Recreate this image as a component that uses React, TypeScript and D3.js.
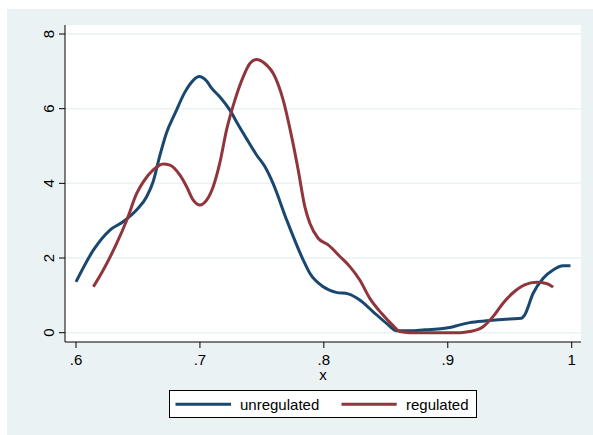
import React from 'react';
import * as d3 from 'd3';

// kernel density estimates
const unregX = [0.600, 0.614, 0.6274, 0.638, 0.649, 0.657, 0.6623, 0.6677, 0.673, 0.680, 0.688, 0.6946, 0.6994, 0.7054, 0.7094, 0.716, 0.7242, 0.731, 0.739, 0.7457, 0.7524, 0.759, 0.770, 0.7833, 0.7887, 0.7995, 0.810, 0.8196, 0.829, 0.8398, 0.8506, 0.8587, 0.869, 0.8816, 0.896, 0.9016, 0.9097, 0.9177, 0.9312, 0.950, 0.9594, 0.962, 0.9688, 0.977, 0.985, 0.993, 0.999];
const unregY = [1.36, 2.21, 2.75, 2.97, 3.29, 3.64, 4.05, 4.75, 5.35, 5.88, 6.45, 6.76, 6.86, 6.74, 6.55, 6.32, 5.96, 5.56, 5.12, 4.76, 4.45, 4.0, 3.02, 1.95, 1.59, 1.23, 1.08, 1.04, 0.876, 0.56, 0.25, 0.054, 0.05, 0.08, 0.11, 0.14, 0.21, 0.27, 0.32, 0.37, 0.385, 0.47, 1.05, 1.46, 1.68, 1.79, 1.79];

const regX = [0.614, 0.622, 0.6328, 0.641, 0.649, 0.6543, 0.6623, 0.6704, 0.6758, 0.6839, 0.6893, 0.6946, 0.700, 0.7054, 0.7107, 0.716, 0.7215, 0.7282, 0.735, 0.7403, 0.7457, 0.7524, 0.7605, 0.7672, 0.774, 0.7793, 0.7847, 0.7887, 0.7954, 0.8035, 0.813, 0.821, 0.829, 0.8371, 0.8465, 0.8559, 0.8613, 0.869, 0.890, 0.910, 0.9177, 0.9285, 0.9365, 0.9446, 0.9527, 0.962, 0.9715, 0.9796, 0.985];
const regY = [1.23, 1.68, 2.39, 3.02, 3.73, 4.04, 4.36, 4.52, 4.49, 4.22, 3.91, 3.55, 3.42, 3.55, 3.91, 4.54, 5.43, 6.23, 6.86, 7.21, 7.32, 7.21, 6.86, 6.23, 5.25, 4.36, 3.37, 2.93, 2.53, 2.35, 2.04, 1.77, 1.41, 0.92, 0.52, 0.19, 0.03, 0.0, 0.0, 0.0, 0.03, 0.16, 0.43, 0.79, 1.07, 1.28, 1.35, 1.32, 1.22];

const xTicks = [0.6, 0.7, 0.8, 0.9, 1.0];
const xTickLabels = ['.6', '.7', '.8', '.9', '1'];
const yTicks = [0, 2, 4, 6, 8];

const seriesNames = ['unregulated', 'regulated'];
const colors = ['#1A476F', '#90353B'];

const W = 593;
const H = 435;
const bg = '#EAF2F3';
const font = '"Liberation Sans", Arial, sans-serif';

const App: React.FC = () => {
  const plot = { left: 65, right: 581, top: 25, bottom: 342 };

  const x = d3.scaleLinear().domain([0.6, 1.0]).range([76, 571.7]);
  const y = d3.scaleLinear().domain([0, 8]).range([332.7, 34]);

  const line = d3.line<[number, number]>()
    .x(d => x(d[0]))
    .y(d => y(d[1]))
    .curve(d3.curveMonotoneX);

  const series = [
    unregX.map((v, i) => [v, unregY[i]] as [number, number]),
    regX.map((v, i) => [v, regY[i]] as [number, number]),
  ];

  const midX = (plot.left + plot.right) / 2;

  return (
    <svg
      width={W}
      height={H}
      style={{ position: 'absolute', left: 0, top: 0, display: 'block' }}
      fontFamily={font}
    >
      <rect x={0} y={0} width={W} height={H} fill="#fff" />
      <rect x={7} y={9} width={W - 7} height={H - 9} fill={bg} />
      <rect x={plot.left} y={plot.top} width={plot.right - plot.left} height={plot.bottom - plot.top} fill="#fff" />

      {/* grid */}
      {yTicks.map(t => (
        <line key={'g' + t} x1={plot.left} x2={plot.right} y1={y(t)} y2={y(t)} stroke={bg} strokeWidth={1.5} />
      ))}

      {/* series */}
      {series.map((s, i) => (
        <path key={i} d={line(s) || undefined} fill="none" stroke={colors[i]} strokeWidth={3} strokeLinejoin="round" strokeLinecap="butt" />
      ))}

      {/* axes */}
      <line x1={plot.left} x2={plot.left} y1={plot.top} y2={plot.bottom} stroke="#000" strokeWidth={1} />
      <line x1={plot.left} x2={plot.right} y1={plot.bottom} y2={plot.bottom} stroke="#000" strokeWidth={1} />

      {yTicks.map(t => (
        <g key={'y' + t}>
          <line x1={plot.left - 6} x2={plot.left} y1={y(t)} y2={y(t)} stroke="#000" strokeWidth={1} />
          <text
            transform={`translate(${53.5},${y(t)}) rotate(-90)`}
            textAnchor="middle"
            fontSize={15}
            fill="#000"
          >
            {t}
          </text>
        </g>
      ))}

      {xTicks.map((t, i) => (
        <g key={'x' + t}>
          <line x1={x(t)} x2={x(t)} y1={plot.bottom} y2={plot.bottom + 6} stroke="#000" strokeWidth={1} />
          <text x={x(t)} y={365} textAnchor="middle" fontSize={15} fill="#000">
            {xTickLabels[i]}
          </text>
        </g>
      ))}

      <text x={midX} y={380} textAnchor="middle" fontSize={15} fill="#000">x</text>

      {/* legend */}
      <rect x={169.5} y={390.5} width={307} height={27} fill="#fff" stroke="#000" strokeWidth={1} />
      <line x1={175.5} x2={231} y1={404.3} y2={404.3} stroke={colors[0]} strokeWidth={3} />
      <text x={240} y={410} fontSize={15} fill="#000">{seriesNames[0]}</text>
      <line x1={341.5} x2={396.7} y1={404.3} y2={404.3} stroke={colors[1]} strokeWidth={3} />
      <text x={406} y={410} fontSize={15} fill="#000">{seriesNames[1]}</text>
    </svg>
  );
};

export default App;
